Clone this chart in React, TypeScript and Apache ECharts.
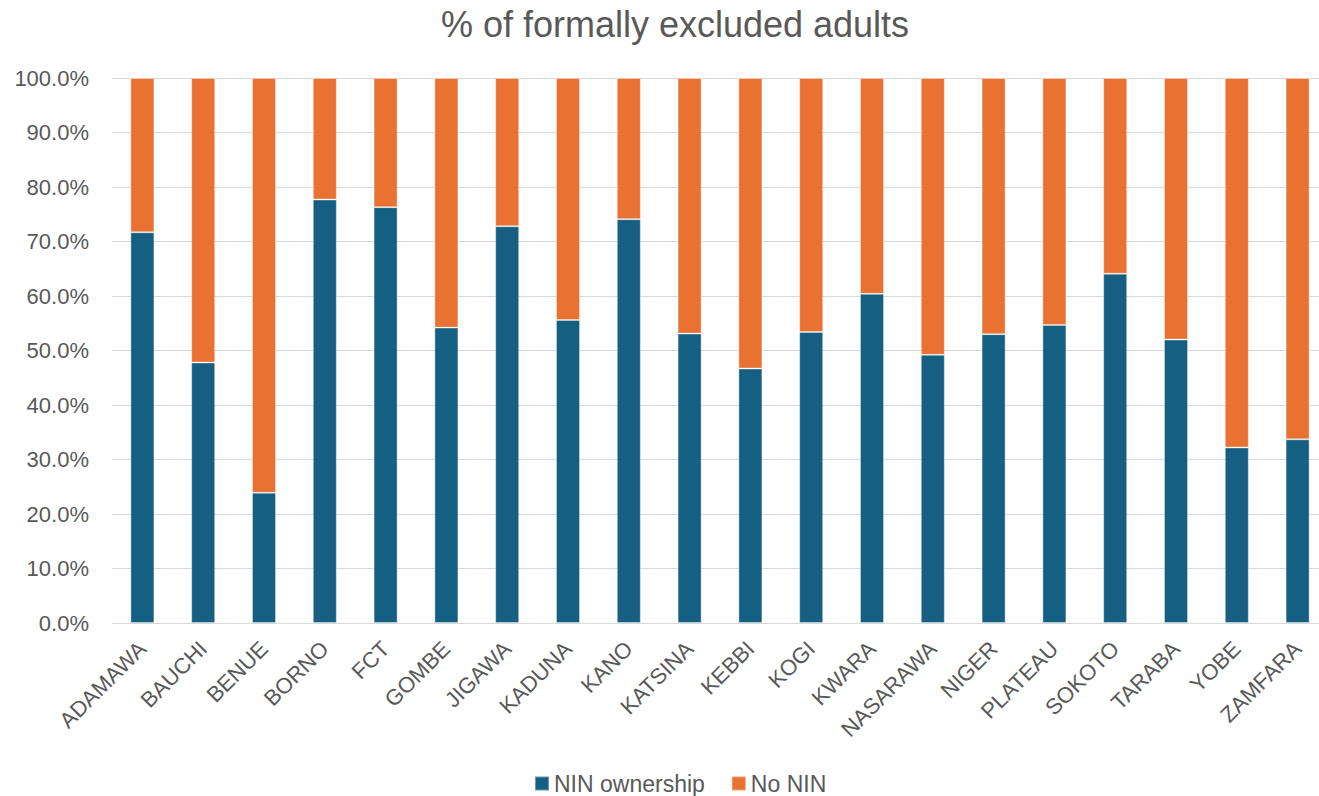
import React, { useEffect, useRef } from "react";
import * as echarts from "echarts";

const categories = ["ADAMAWA", "BAUCHI", "BENUE", "BORNO", "FCT", "GOMBE", "JIGAWA", "KADUNA", "KANO", "KATSINA", "KEBBI", "KOGI", "KWARA", "NASARAWA", "NIGER", "PLATEAU", "SOKOTO", "TARABA", "YOBE", "ZAMFARA"];
const ninOwnership = [71.7, 47.8, 23.9, 77.7, 76.3, 54.2, 72.8, 55.6, 74.1, 53.1, 46.7, 53.4, 60.4, 49.2, 53.0, 54.7, 64.1, 52.0, 32.2, 33.7];
const noNin = [28.3, 52.2, 76.1, 22.3, 23.7, 45.8, 27.2, 44.4, 25.9, 46.9, 53.3, 46.6, 39.6, 50.8, 47.0, 45.3, 35.9, 48.0, 67.8, 66.3];

export default function App() {
  const ref = useRef<HTMLDivElement>(null);
  useEffect(() => {
    const chart = echarts.init(ref.current!, null, { renderer: "svg" });
    const font = "'Liberation Sans', Arial, sans-serif";
    chart.setOption({
      animation: false,
      textStyle: { fontFamily: font },
      title: {
        text: "% of formally excluded adults",
        left: "center",
        top: 1,
        textStyle: { fontSize: 36, fontWeight: "normal", color: "#595959", fontFamily: font },
      },
      legend: {
        bottom: -4,
        left: 529,
        itemWidth: 14,
        itemHeight: 14,
        itemGap: 26,
        icon: "rect",
        textStyle: { fontSize: 23, color: "#595959", fontFamily: font },
        data: ["NIN ownership", "No NIN"],
      },
      grid: { left: 112, width: 1216, top: 78, height: 545, containLabel: false },
      xAxis: {
        type: "category",
        data: categories,
        axisLine: { lineStyle: { color: "#d9d9d9", width: 1 } },
        axisTick: { show: false },
        axisLabel: { rotate: 45, fontSize: 22, color: "#595959", margin: 22, interval: 0, fontFamily: font },
      },
      yAxis: {
        type: "value",
        min: 0,
        max: 100,
        interval: 10,
        axisLine: { show: false },
        axisTick: { show: false },
        splitLine: { lineStyle: { color: "#d9d9d9", width: 1 } },
        axisLabel: { formatter: (v: number) => v.toFixed(1) + "%", fontSize: 22, color: "#595959", margin: 23, fontFamily: font },
      },
      series: [
        {
          name: "NIN ownership",
          type: "bar",
          stack: "total",
          barWidth: 24,
          data: ninOwnership,
          itemStyle: { color: "#156082", borderColor: "rgba(255,255,255,0.35)", borderWidth: 1 },
        },
        {
          name: "No NIN",
          type: "bar",
          stack: "total",
          barWidth: 24,
          data: noNin,
          itemStyle: { color: "#E97132", borderColor: "rgba(255,255,255,0.35)", borderWidth: 1 },
        },
      ],
    });
    return () => chart.dispose();
  }, []);
  return (
    <div style={{ position: "absolute", left: 0, top: 0, width: 1319, height: 796, overflow: "hidden" }}>
      <div ref={ref} style={{ width: 1350, height: 796 }} />
    </div>
  );
}
